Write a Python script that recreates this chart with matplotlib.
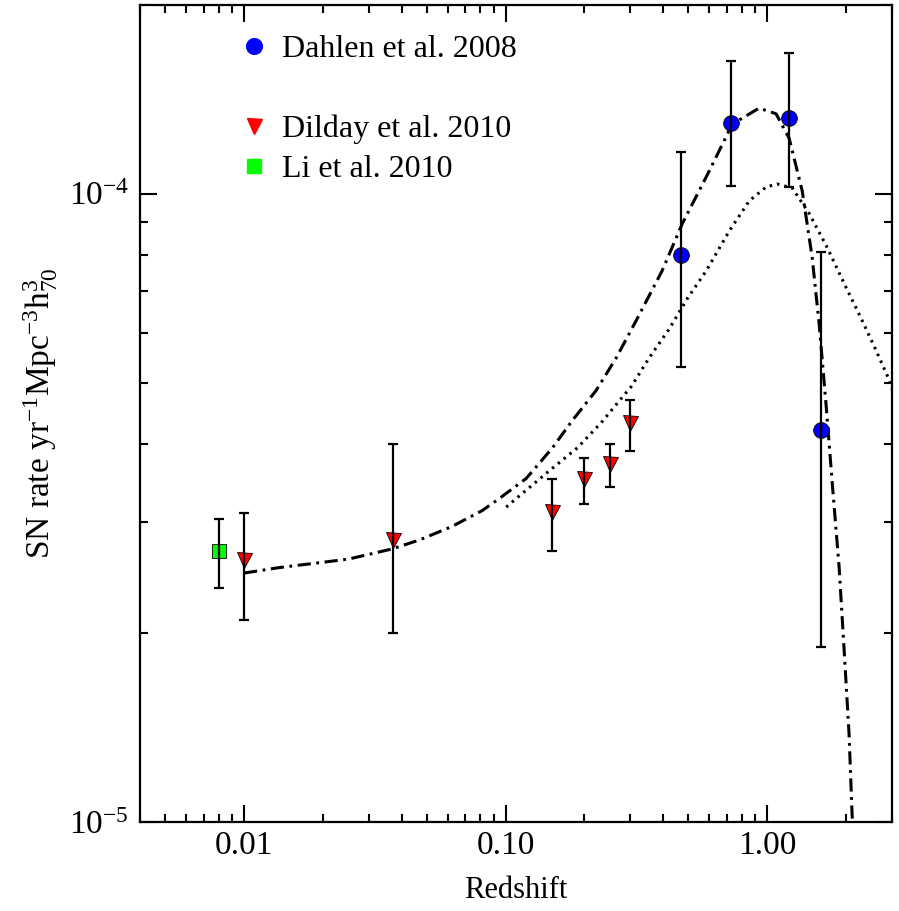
import matplotlib
matplotlib.use("Agg")
import matplotlib.pyplot as plt
from matplotlib.lines import Line2D
from matplotlib.ticker import LogLocator, FixedLocator, FixedFormatter, NullFormatter
import numpy as np

plt.rcParams['font.family'] = ['Liberation Serif', 'DejaVu Serif']
plt.rcParams['mathtext.fontset'] = 'stix'
plt.rcParams['lines.scale_dashes'] = False

# ---- data ----
dahlen_z = [0.47, 0.73, 1.21, 1.61]
dahlen_rate = [8.0e-5, 1.295e-4, 1.32e-4, 4.2e-5]
dahlen_lo = [5.3e-5, 1.03e-4, 1.025e-4, 1.9e-5]
dahlen_hi = [1.165e-4, 1.625e-4, 1.675e-4, 8.08e-5]

dilday_z = [0.010, 0.037, 0.15, 0.20, 0.25, 0.30]
dilday_rate = [2.61e-5, 2.81e-5, 3.11e-5, 3.51e-5, 3.72e-5, 4.31e-5]
dilday_lo = [2.10e-5, 2.00e-5, 2.70e-5, 3.21e-5, 3.41e-5, 3.90e-5]
dilday_hi = [3.10e-5, 4.00e-5, 3.51e-5, 3.80e-5, 4.00e-5, 4.70e-5]

li_z = [0.008]
li_rate = [2.70e-5]
li_lo = [2.36e-5]
li_hi = [3.04e-5]

# dash-dot model curve
model1_z = [0.0100, 0.0136, 0.0250, 0.0368, 0.0467, 0.0620, 0.0813, 0.0944, 0.1197, 0.1342,
            0.151, 0.1795, 0.2217, 0.2648, 0.3155, 0.396, 0.473, 0.600, 0.735, 0.931,
            1.081, 1.213, 1.361, 1.486, 1.580, 1.680, 1.774, 1.884, 1.968, 2.056, 2.11, 2.13]
model1_rate = [2.49e-5, 2.54e-5, 2.62e-5, 2.72e-5, 2.81e-5, 2.95e-5, 3.13e-5, 3.27e-5, 3.52e-5, 3.72e-5,
               3.94e-5, 4.35e-5, 4.86e-5, 5.48e-5, 6.28e-5, 7.53e-5, 8.95e-5, 1.086e-4, 1.29e-4, 1.368e-4,
               1.34e-4, 1.225e-4, 1.01e-4, 7.91e-5, 6.2e-5, 4.6e-5, 3.45e-5, 2.54e-5, 1.88e-5, 1.38e-5,
               1.035e-5, 9.5e-6]

# dotted model curve
model2_z = [0.1005, 0.1096, 0.149, 0.188, 0.232, 0.265, 0.302, 0.354, 0.422, 0.494,
            0.585, 0.716, 0.854, 0.991, 1.092, 1.247, 1.449, 1.683, 2.006, 2.308,
            2.612, 2.929, 3.0]
model2_rate = [3.17e-5, 3.27e-5, 3.64e-5, 3.94e-5, 4.32e-5, 4.62e-5, 4.93e-5, 5.48e-5, 6.09e-5, 6.80e-5,
               7.54e-5, 8.72e-5, 9.74e-5, 1.025e-4, 1.036e-4, 1.021e-4, 9.29e-5, 8.26e-5, 7.08e-5, 6.28e-5,
               5.62e-5, 5.05e-5, 4.88e-5]

xticks = [0.01, 0.1, 1.0]
xticklabels = ['0.01', '0.10', '1.00']
labels = ['Dahlen et al. 2008', ' ', 'Dilday et al. 2010', 'Li et al. 2010']

# ---- figure ----
fig = plt.figure(figsize=(8.99, 9.11), dpi=100)
ax = fig.add_axes([140/899, 1-822/911, (892-140)/899, (822-4.5)/911])
ax.set_xscale('log')
ax.set_yscale('log')
ax.set_xlim(0.004, 3.0)
ax.set_ylim(1e-5, 2e-4)

ax.plot(model1_z, model1_rate, color='black', lw=2.2, dashes=(9.5, 4.0, 2.0, 4.0), zorder=2)
ax.plot(model2_z, model2_rate, color='black', lw=2.2, dashes=(1.8, 3.6), zorder=2)

def series(z, r, lo, hi, marker, color, ms):
    ax.plot(z, r, linestyle='none', marker=marker, color=color, markersize=ms,
            markeredgecolor='black', markeredgewidth=0.6, zorder=3)
    yerr = [np.array(r) - np.array(lo), np.array(hi) - np.array(r)]
    ax.errorbar(z, r, yerr=yerr, fmt='none', ecolor='black', elinewidth=1.6,
                capsize=3.8, capthick=1.6, zorder=4)

series(dahlen_z, dahlen_rate, dahlen_lo, dahlen_hi, 'o', '#0000ff', 11.3)
series(dilday_z, dilday_rate, dilday_lo, dilday_hi, 'v', '#ff0000', 10.8)
series(li_z, li_rate, li_lo, li_hi, 's', '#00ff00', 10)

# ticks
ax.xaxis.set_major_locator(FixedLocator(xticks))
ax.xaxis.set_major_formatter(FixedFormatter(xticklabels))
ax.xaxis.set_minor_locator(LogLocator(base=10, subs=np.arange(2, 10), numticks=20))
ax.xaxis.set_minor_formatter(NullFormatter())
ax.yaxis.set_major_locator(LogLocator(base=10, numticks=10))
ax.yaxis.set_minor_locator(LogLocator(base=10, subs=np.arange(2, 10), numticks=20))
ax.yaxis.set_minor_formatter(NullFormatter())

ax.tick_params(which='both', direction='in', top=True, right=True, width=1.5,
               labelsize=24)
ax.tick_params(axis='x', which='both', pad=6)
ax.tick_params(axis='y', which='both', pad=8)
ax.tick_params(which='major', length=12)
ax.tick_params(which='minor', length=6)
for s in ax.spines.values():
    s.set_linewidth(1.6)

ax.set_xlabel('Redshift', fontsize=22, labelpad=11)
ax.set_ylabel(r'SN rate $\mathregular{yr^{-1}Mpc^{-3}h^{3}_{70}}$', fontsize=24, labelpad=6)

handles = [
    Line2D([], [], linestyle='none', marker='o', color='#0000ff', markersize=11.3),
    Line2D([], [], linestyle='none', marker='none'),
    Line2D([], [], linestyle='none', marker='v', color='#ff0000', markersize=10.8),
    Line2D([], [], linestyle='none', marker='s', color='#00ff00', markersize=10),
]
ax.legend(handles, labels, loc='upper left', bbox_to_anchor=(0.13, 0.963),
          frameon=False, fontsize=23, handlelength=1.0, handletextpad=0.4,
          labelspacing=0.33, borderpad=0, borderaxespad=0)

fig.savefig('out.png', dpi=100)
